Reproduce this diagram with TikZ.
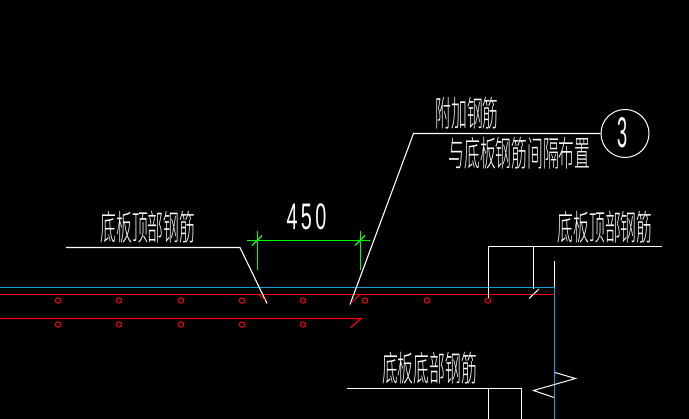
\documentclass[tikz,border=0pt]{standalone}
\usepackage{graphicx}
\usepackage{fontspec}
\newfontfamily\cjk{Noto Sans CJK SC Light}
\setmainfont{Liberation Sans}
\definecolor{cadcyan}{RGB}{20,160,215}
\definecolor{cadgreen}{RGB}{0,255,0}
\definecolor{cadred}{RGB}{255,0,0}
\tikzset{
  whiteline/.style={draw=white,line width=1.1pt},
  thinwhite/.style={draw=white,line width=1pt},
  redline/.style={draw=cadred,line width=1.2pt},
  cyanline/.style={draw=cadcyan,line width=1.1pt},
  greenline/.style={draw=cadgreen,line width=1.1pt},
  rebar/.style={circle,draw=cadred,line width=0.9pt,minimum size=5.5pt,inner sep=0pt},
  label/.style={text=white,inner sep=0pt,font=\cjk\fontsize{27}{27}\selectfont},
  digit/.style={text=white,inner sep=0pt,font=\fontsize{33}{33}\selectfont}
}
\newcommand{\narrow}[1]{\scalebox{0.585}[1.3]{#1}}
\begin{document}
\begin{tikzpicture}[x=1pt,y=-1pt]
\useasboundingbox (0,0) rectangle (689,419);
\fill[black] (0,0) rectangle (689,419);
% slab lines
\coordinate (cl) at (0,287.5); \coordinate (cr) at (554.5,287.5);
\coordinate (rl) at (0,294.5); \coordinate (rr) at (554.5,294.5);
\coordinate (ll) at (0,318.5); \coordinate (lr) at (361,318.5);
\coordinate (cb) at (554.5,419);
\draw[redline] (rl) -- (rr);
\draw[redline] (ll) -- (lr) -- (351,327.5);
\draw[cyanline] (cl) -- (cr) -- (cb);
% rebars
\foreach \n/\x in {a/58,b/119,c/181,d/242,e/303,f/365,g/427,h/488}
  \node[rebar] (t\n) at (\x,300.5) {};
\foreach \n/\x in {a/58,b/119,c/181,d/242,e/303}
  \node[rebar] (u\n) at (\x,324.5) {};
% dimension
\coordinate (d1t) at (257.5,231); \coordinate (d1b) at (257.5,270);
\coordinate (d2t) at (360.5,231); \coordinate (d2b) at (360.5,270);
\coordinate (dl) at (247,240.5); \coordinate (dr) at (370,240.5);
\draw[greenline] (d1t) -- (d1b);
\draw[greenline] (d2t) -- (d2b);
\draw[greenline] (dl) -- (dr);
\draw[greenline] (252,245.5) -- (262,235.5);
\draw[greenline] (355,245.5) -- (365,235.5);
\node[digit] (dim) at (306.5,217) {\scalebox{0.6}[1.12]{4\,5\,0}};
% left leader
\coordinate (a1) at (66,247.5); \coordinate (a2) at (240,247.5); \coordinate (a3) at (267,303.5);
\draw[whiteline] (a1) -- (a2) -- (a3);
\draw[redline,line width=.9pt] (259,294.5) -- (265,300);
\node[label] (n1) at (148,227) {\narrow{底板顶部钢筋}};
% centre leader
\node[circle,draw=white,line width=1pt,minimum size=48pt,inner sep=0pt] (circ) at (625,133.5) {};
\node[digit] (three) at (622.5,133) {\scalebox{0.55}[1.3]{3}};
\coordinate (b1) at (350,304.5); \coordinate (b2) at (413.5,133.5);
\draw[whiteline] (b1) -- (b2) -- (circ.west);
\draw[redline,line width=.9pt] (351,303) -- (360,294.5);
\node[label] (n2) at (467,113) {\narrow{附加钢筋}};
\node[label] (n3) at (519.5,153) {\narrow{与底板钢筋间隔布置}};
% right leader
\coordinate (c1) at (488.5,298); \coordinate (c2) at (488.5,246.5); \coordinate (c3) at (662,246.5);
\draw[whiteline] (c1) -- (c2) -- (c3);
\coordinate (c4) at (533.5,246.5); \coordinate (c5) at (533.5,289);
\draw[whiteline] (c4) -- (c5);
\draw[thinwhite] (529,298.5) -- (539,289);
\node[label] (n4) at (605,227) {\narrow{底板顶部钢筋}};
\coordinate (w1) at (554.5,261); \coordinate (w2) at (554.5,287);
\draw[whiteline] (w1) -- (w2);
% bottom leader
\coordinate (e1) at (347,388.5); \coordinate (e2) at (521.5,388.5); \coordinate (e3) at (521.5,419);
\draw[whiteline] (e1) -- (e2) -- (e3);
\coordinate (e4) at (488.5,388.5); \coordinate (e5) at (488.5,419);
\draw[whiteline] (e4) -- (e5);
\node[label] (n5) at (429.5,368) {\narrow{底板底部钢筋}};
% break mark
\coordinate (z1) at (555,372.5); \coordinate (z2) at (575.5,378.5);
\coordinate (z3) at (533.5,390.5); \coordinate (z4) at (554,397.5);
\draw[thinwhite] (z1) -- (z2) -- (z3) -- (z4);
\end{tikzpicture}
\end{document}
